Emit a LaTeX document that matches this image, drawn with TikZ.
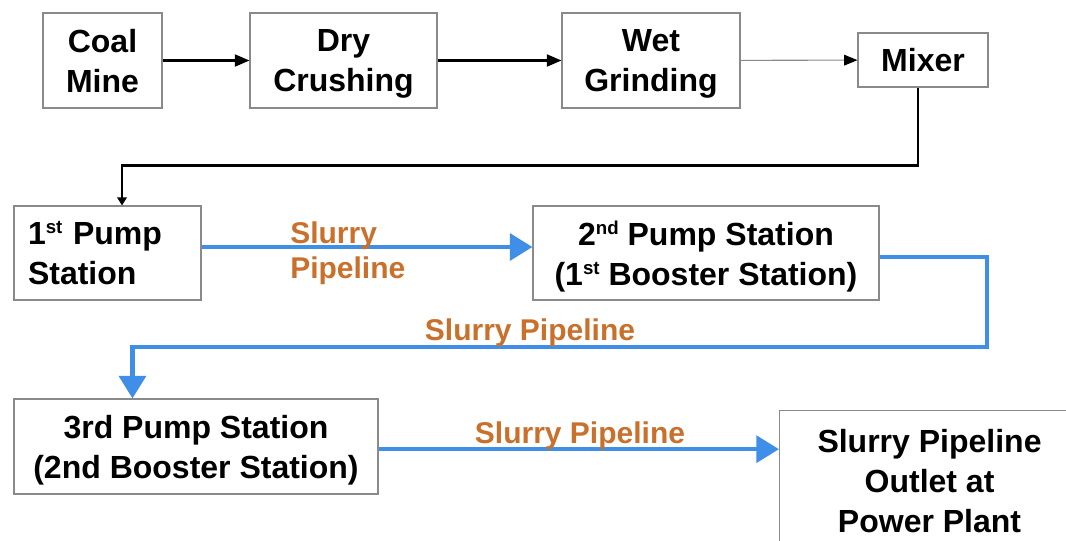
\documentclass[tikz,border=0pt]{standalone}
\usepackage{fontspec}
\setmainfont{Liberation Sans}
\usepackage{tikz}
\usetikzlibrary{arrows.meta,positioning,calc}
\definecolor{pipeBlue}{HTML}{3F8FE8}
\definecolor{labelOrange}{HTML}{C9712C}
\definecolor{boxGray}{HTML}{8A8A8A}
\newcommand{\ordsup}[1]{\raisebox{8pt}{\fontsize{14}{14}\selectfont #1}}

\begin{document}
\begin{tikzpicture}[
    x=0.75pt, y=-0.75pt,
    every node/.style={font=\bfseries\fontsize{24}{30}\selectfont},
    stage/.style={draw=boxGray,line width=0.8pt,fill=white,align=center,inner sep=2pt,text depth=0pt},
    feed/.style={black,line width=1.6pt,-{Triangle[length=11pt,width=9pt]}},
    thinfeed/.style={boxGray,line width=0.8pt,-{Triangle[length=10pt,width=8pt,black]}},
    drop/.style={black,line width=1.6pt,-{Triangle[length=6pt,width=7pt]}},
    pipe/.style={pipeBlue,line width=3.4pt,-{Triangle[length=17pt,width=20pt]}},
    pipelabel/.style={text=labelOrange,font=\bfseries\fontsize{22.5}{26.5}\selectfont,inner sep=0pt}
  ]
  \useasboundingbox (0,0) rectangle (1066,540);
  %% Preparation line
  \node[stage,minimum width=89.25pt,minimum height=71.25pt] (mine) at (102.5,60.5) {Coal\\Mine};
  \node[stage,minimum width=140.25pt,minimum height=71.25pt] (dry) at (343.5,60.5) {Dry\\Crushing};
  \node[stage,minimum width=133.5pt,minimum height=71.25pt] (wet) at (651,60.5) {Wet\\Grinding};
  \node[stage,minimum width=97.5pt,minimum height=40.5pt] (mix) at (923,60) {Mixer};
  \draw[feed] (mine) -- (dry);
  \draw[feed] (dry) -- (wet);
  \draw[thinfeed] (wet) -- (mix);
  %% Pump stations
  \node[stage,align=left,text width=119.25pt,inner xsep=10.5pt,minimum height=70.5pt,text depth=] (p1) at (107.5,253)
    {1\ordsup{st} Pump\\Station};
  \node[stage,minimum width=259.5pt,minimum height=70.5pt] (p2) at (706,253)
    {2\ordsup{nd} Pump Station\\(1\ordsup{st} Booster Station)};
  \node[stage,minimum width=273pt,minimum height=71.25pt] (p3) at (196,446.5)
    {3rd Pump Station\\(2nd Booster Station)};
  \node[stage,anchor=north west,minimum width=225pt,minimum height=105pt] (out) at (779,410)
    {Slurry Pipeline\\Outlet at\\Power Plant};
  \draw[drop] ([xshift=-3.75pt]mix.south) -- ++(0,78) -| ($(p1.north)+(14.5,0)$);
  %% Slurry pipelines
  \coordinate (bend) at (987,347);
  \draw[pipe] ([yshift=4.5pt]p1.east) -- ([yshift=4.5pt]p2.west);
  \draw[pipe] ([yshift=-3pt]p2.east) -| (bend) -| ($(p3.north west)+(119,0)$);
  \draw[pipe] ([yshift=-2pt]p3.east) -- ([yshift=-2pt]p3.east -| out.west);
  \node[pipelabel,align=left,anchor=west] (lab1) at (290,253) {Slurry\\Pipeline};
  \node[pipelabel] (lab2) at (530,333) {Slurry Pipeline};
  \node[pipelabel] (lab3) at (580,436) {Slurry Pipeline};
\end{tikzpicture}
\end{document}
